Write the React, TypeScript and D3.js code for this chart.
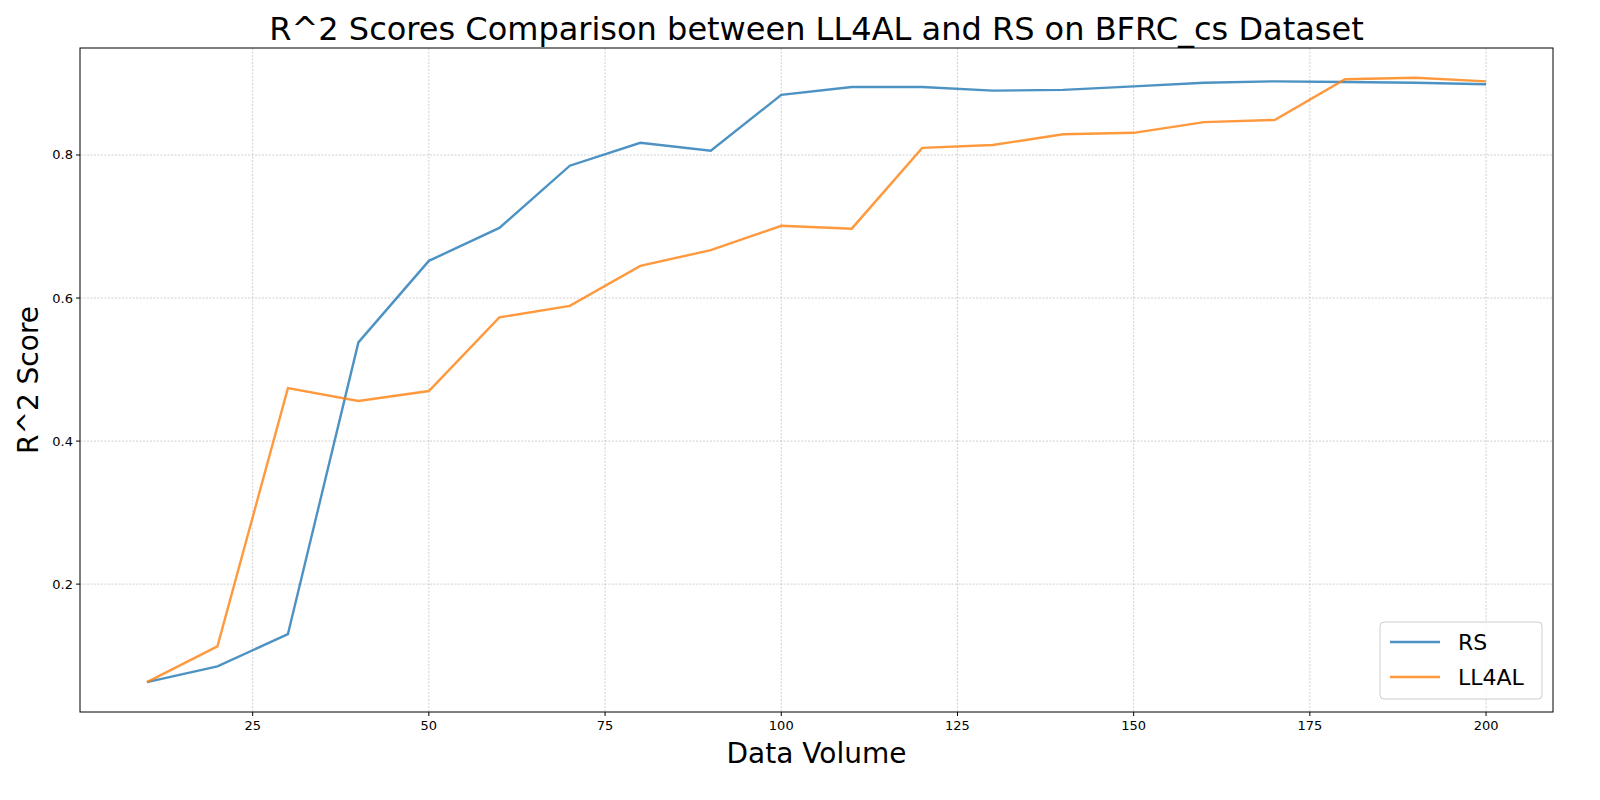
import * as d3 from 'd3';

const volumes = [10, 20, 30, 40, 50, 60, 70, 80, 90, 100, 110, 120, 130, 140, 150, 160, 170, 180, 190, 200];
const rsScores = [0.063, 0.085, 0.130, 0.538, 0.652, 0.698, 0.785, 0.817, 0.806, 0.884, 0.895, 0.895, 0.890, 0.891, 0.896, 0.901, 0.903, 0.902, 0.901, 0.899];
const ll4alScores = [0.063, 0.113, 0.474, 0.456, 0.470, 0.573, 0.589, 0.645, 0.667, 0.701, 0.697, 0.810, 0.814, 0.829, 0.831, 0.846, 0.849, 0.906, 0.908, 0.903];
const xTicks = [25, 50, 75, 100, 125, 150, 175, 200];
const yTicks = [0.2, 0.4, 0.6, 0.8];

const W = 1600, H = 800;
const left = 80, right = 1553, top = 48, bottom = 712;

const App = () => {
  const x = d3.scaleLinear().domain([0.5, 209.5]).range([left, right]);
  const y = d3.scaleLinear().domain([0.0212, 0.9496]).range([bottom, top]);
  const line = d3.line<number>().x((_, i) => x(volumes[i])).y(d => y(d));
  const series = [
    { name: 'RS', values: rsScores, color: '#1f77b4' },
    { name: 'LL4AL', values: ll4alScores, color: '#ff7f0e' },
  ];
  return (
    <svg width={W} height={H} style={{ display: 'block', position: 'fixed', left: 0, top: 0, fontFamily: 'DejaVu Sans' }}>
      <rect width={W} height={H} fill="#fff" />
      {xTicks.map(t => (
        <g key={t}>
          <line x1={x(t)} x2={x(t)} y1={top} y2={bottom} stroke="#b0b0b0" strokeWidth={0.6} strokeDasharray="2,1.5" />
          <line x1={x(t)} x2={x(t)} y1={bottom} y2={bottom + 4} stroke="#000" />
          <text x={x(t)} y={bottom + 18} fontSize={13} textAnchor="middle">{t}</text>
        </g>
      ))}
      {yTicks.map(t => (
        <g key={t}>
          <line x1={left} x2={right} y1={y(t)} y2={y(t)} stroke="#b0b0b0" strokeWidth={0.6} strokeDasharray="2,1.5" />
          <line x1={left - 4} x2={left} y1={y(t)} y2={y(t)} stroke="#000" />
          <text x={left - 7} y={y(t)} fontSize={13} textAnchor="end" dominantBaseline="central">{t.toFixed(1)}</text>
        </g>
      ))}
      {series.map(s => (
        <path key={s.name} d={line(s.values) || ''} fill="none" stroke={s.color} strokeOpacity={0.8} strokeWidth={2.4} />
      ))}
      <rect x={left} y={top} width={right - left} height={bottom - top} fill="none" stroke="#000" strokeWidth={1} />
      <text x={(left + right) / 2} y={40} fontSize={32} textAnchor="middle">R^2 Scores Comparison between LL4AL and RS on BFRC_cs Dataset</text>
      <text x={(left + right) / 2} y={763} fontSize={28} textAnchor="middle">Data Volume</text>
      <text transform={`translate(38,${(top + bottom) / 2}) rotate(-90)`} fontSize={28} textAnchor="middle">R^2 Score</text>
      <g>
        <rect x={1380} y={622} width={162} height={77} rx={4} fill="#fff" fillOpacity={0.8} stroke="#ccc" />
        {series.map((s, i) => (
          <g key={s.name} transform={`translate(1390,${642 + i * 35})`}>
            <line x1={0} x2={50} y1={0} y2={0} stroke={s.color} strokeOpacity={0.8} strokeWidth={2.4} />
            <text x={68} y={0} fontSize={22} dominantBaseline="central">{s.name}</text>
          </g>
        ))}
      </g>
    </svg>
  );
};

export default App;
